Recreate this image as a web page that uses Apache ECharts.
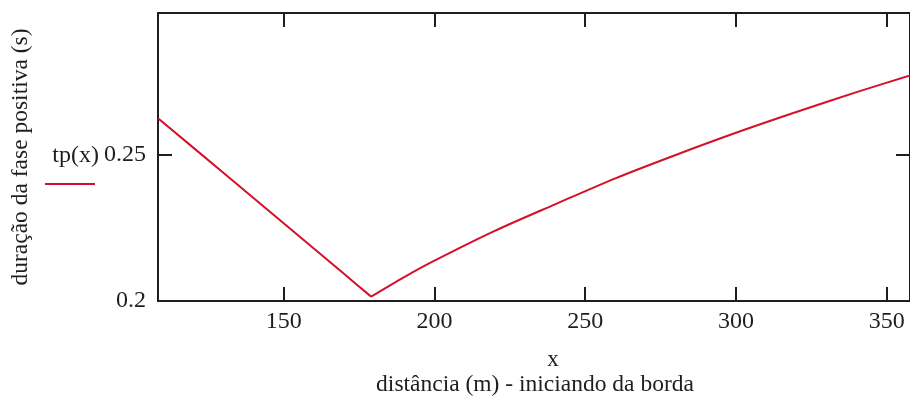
<!DOCTYPE html>
<html>
<head>
<meta charset="utf-8">
<script src="https://cdn.jsdelivr.net/npm/echarts@6/dist/echarts.min.js"></script>
<style>
  html, body { margin: 0; padding: 0; background: #fff; }
  #chart { width: 910px; height: 397px; }
</style>
</head>
<body>
<div id="chart"></div>
<script>
// distance from the edge (m)
const distances = [108.33, 130, 150, 170, 179, 190, 200, 220, 240, 260, 280, 300, 320, 340, 357.7];
// positive phase duration tp(x) (s)
const durations = [0.2626, 0.2439, 0.2266, 0.2093, 0.2015, 0.2082, 0.2138, 0.2240, 0.2331, 0.2420, 0.2500, 0.2576, 0.2647, 0.2715, 0.2772];

const xTicks = [150, 200, 250, 300, 350];
const yTicks = [0.2, 0.25];
const xRange = [108.33, 357.7];
const yRange = [0.2, 0.2986];

const seriesName = 'tp(x)';
const xTitleTop = 'x';
const xTitle = 'distância (m) - iniciando da borda';
const yTitle = 'duração da fase positiva (s)';

const FONT = '"Liberation Serif", "Times New Roman", serif';
const INK = '#1e1e1e';
const RED = '#d4102a';

// the curve is V-shaped: split at the minimum so each branch can be smoothed on its own
const points = distances.map((d, i) => [d, durations[i]]);
const iMin = durations.indexOf(Math.min(...durations));
const leftBranch = points.slice(0, iMin + 1);
const rightBranch = points.slice(iMin);

const chart = echarts.init(document.getElementById('chart'), null, { renderer: 'canvas' });

const frameLine = { show: true, onZero: false, lineStyle: { color: INK, width: 2 } };
const tickStyle = (vals) => ({ show: true, inside: true, length: 14, customValues: vals, lineStyle: { color: INK, width: 2 } });

const branch = (data) => ({
  name: seriesName,
  type: 'line',
  xAxisIndex: 0, yAxisIndex: 0,
  data,
  showSymbol: false,
  smooth: 0.3,
  lineStyle: { color: RED, width: 2 },
  z: 1
});

chart.setOption({
  animation: false,
  backgroundColor: '#fff',
  grid: { left: 158, top: 13, right: -2, bottom: 96 },
  xAxis: [
    {
      type: 'value', position: 'bottom', min: xRange[0], max: xRange[1],
      axisLine: frameLine, axisTick: tickStyle(xTicks), splitLine: { show: false },
      axisLabel: { customValues: xTicks, margin: 9, fontFamily: FONT, fontSize: 24, color: INK,
        formatter: v => String(Math.round(v)) }
    },
    {
      type: 'value', position: 'top', min: xRange[0], max: xRange[1],
      axisLine: frameLine, axisTick: tickStyle(xTicks), splitLine: { show: false },
      axisLabel: { show: false }
    }
  ],
  yAxis: [
    {
      type: 'value', position: 'left', min: yRange[0], max: yRange[1],
      axisLine: frameLine, axisTick: tickStyle(yTicks), splitLine: { show: false },
      axisLabel: { customValues: yTicks, margin: 12, fontFamily: FONT, fontSize: 24, color: INK,
        formatter: v => String(Math.round(v * 100) / 100) }
    },
    {
      type: 'value', position: 'right', min: yRange[0], max: yRange[1],
      axisLine: frameLine, axisTick: tickStyle(yTicks), splitLine: { show: false },
      axisLabel: { show: false }
    }
  ],
  series: [branch(leftBranch), branch(rightBranch)],
  graphic: [
    { type: 'text', x: 99, y: 156, style: { text: seriesName, font: '24px ' + FONT, fill: INK, align: 'right', verticalAlign: 'middle' } },
    { type: 'line', shape: { x1: 45, y1: 184, x2: 95, y2: 184 }, style: { stroke: RED, lineWidth: 2 } },
    { type: 'text', x: 553, y: 360, style: { text: xTitleTop, font: '23px ' + FONT, fill: INK, align: 'center', verticalAlign: 'middle' } },
    { type: 'text', x: 535, y: 385, style: { text: xTitle, font: '23.5px ' + FONT, fill: INK, align: 'center', verticalAlign: 'middle' } },
    { type: 'text', x: 21, y: 157, rotation: Math.PI / 2,
      style: { text: yTitle, font: '23.5px ' + FONT, fill: INK, align: 'center', verticalAlign: 'middle' } }
  ]
});
</script>
</body>
</html>
